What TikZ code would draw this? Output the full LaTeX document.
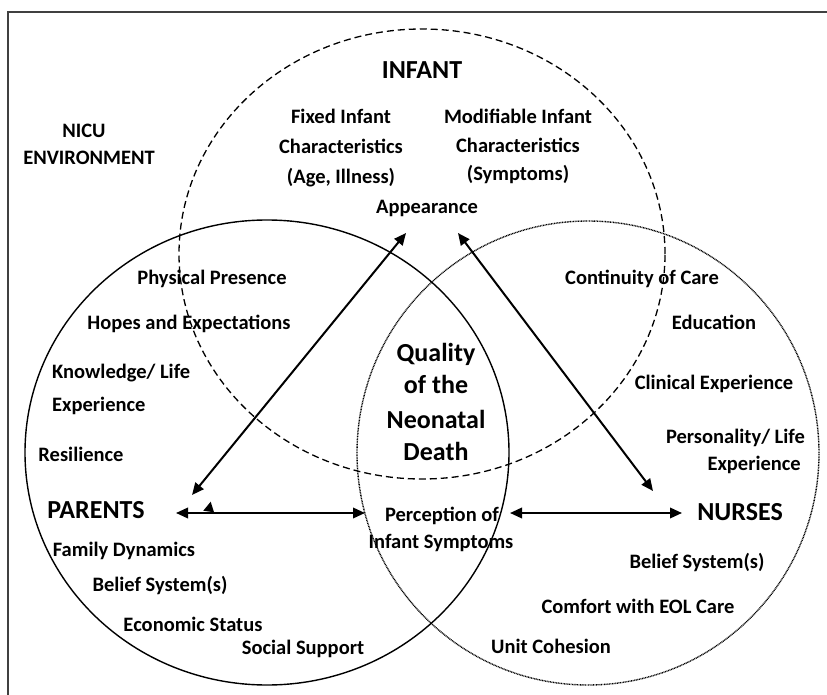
\documentclass[tikz,border=0pt]{standalone}
\usepackage{fontspec}
\setmainfont{Carlito}
\usetikzlibrary{arrows.meta}
\begin{document}
\begin{tikzpicture}[x=1pt,y=-1pt,
  lbl/.style={font=\fontsize{20.5}{24}\selectfont\bfseries, inner sep=0pt, anchor=base},
  lblw/.style={lbl, anchor=base west},
  lble/.style={lbl, anchor=base east},
  big/.style={font=\fontsize{26}{30}\selectfont\bfseries, inner sep=0pt, anchor=base},
  frame/.style={line width=1.6pt, black!75},
  infantring/.style={line width=1.3pt, dash pattern=on 7pt off 4pt},
  parentring/.style={line width=1.4pt},
  nursering/.style={line width=1.4pt, black, dash pattern=on 0.9pt off 0.7pt},
  link/.style={line width=2pt, {Triangle[length=12pt,width=10.5pt]}-{Triangle[length=12pt,width=10.5pt]}}]

\useasboundingbox (0,0) rectangle (827,695);

% outer frame of the NICU environment
\draw[frame] (8,695) -- (8,12) -- (827,12);

% the three overlapping domains
\draw[infantring] (422,254) ellipse [x radius=243pt, y radius=225pt];
\draw[parentring] (267,452.5) ellipse [x radius=242pt, y radius=232.5pt];
\draw[nursering] (588,453) ellipse [x radius=231pt, y radius=232pt];

% environment
\node[lbl] (nicu) at (84,138) {NICU};
\node[lbl] (environment) at (89,165) {ENVIRONMENT};

% infant domain
\node[big] (infant) at (422,79) {INFANT};
\node[lbl] (fixed-1) at (341,124) {Fixed Infant};
\node[lbl] (fixed-2) at (341,154) {Characteristics};
\node[lbl] (fixed-3) at (341,184) {(Age, Illness)};
\node[lbl] (modif-1) at (518,124) {Modifiable Infant};
\node[lbl] (modif-2) at (518,153) {Characteristics};
\node[lbl] (modif-3) at (518,181) {(Symptoms)};
\node[lbl] (appearance) at (427,214) {Appearance};

% parents domain
\node[lbl] (physical) at (212,284) {Physical Presence};
\node[lbl] (hopes) at (189,329) {Hopes and Expectations};
\node[lblw] (knowledge-1) at (52,378) {Knowledge/ Life};
\node[lblw] (knowledge-2) at (52,411) {Experience};
\node[lbl] (resilience) at (81,461) {Resilience};
\node[big] (parents) at (96,518.5) {PARENTS};
\node[lbl] (family) at (124,556) {Family Dynamics};
\node[lbl] (beliefp) at (160,591) {Belief System(s)};
\node[lbl] (economic) at (193,631) {Economic Status};
\node[lbl] (social) at (303,654) {Social Support};

% shared centre
\node[big] (quality-1) at (436,361) {Quality};
\node[big] (quality-2) at (436,393) {of the};
\node[big] (quality-3) at (436,428) {Neonatal};
\node[big] (quality-4) at (436,460) {Death};
\node[lbl] (percep-1) at (442,521) {Perception of};
\node[lbl] (percep-2) at (441,548) {Infant Symptoms};

% nurses domain
\node[lbl] (continuity) at (642,284) {Continuity of Care};
\node[lbl] (education) at (714,329) {Education};
\node[lbl] (clinical) at (714,389) {Clinical Experience};
\node[lble] (personality-1) at (805,443) {Personality/ Life};
\node[lble] (personality-2) at (801,470) {Experience};
\node[big] (nurses) at (740,520.5) {NURSES};
\node[lbl] (beliefn) at (697,568) {Belief System(s)};
\node[lbl] (comfort) at (638,613) {Comfort with EOL Care};
\node[lbl] (cohesion) at (551,653) {Unit Cohesion};

% connector end points around the labels
\coordinate (par-up) at (192,495);
\coordinate (app-left) at (406,233);
\coordinate (app-right) at (458,233);
\coordinate (nur-up) at (653,491);
\coordinate (par-right) at (176,513);
\coordinate (per-left) at (365,513);
\coordinate (per-right) at (510,513);
\coordinate (nur-left) at (682,513);

% relationships
\draw[link] (par-up) -- (app-left);
\draw[link] (app-right) -- (nur-up);
\draw[link] (par-right) -- (per-left);
\draw[link] (per-right) -- (nur-left);
\fill (203.3,510.7) -- (210.7,501.7) -- (214,512.3) -- cycle;

\end{tikzpicture}
\end{document}
